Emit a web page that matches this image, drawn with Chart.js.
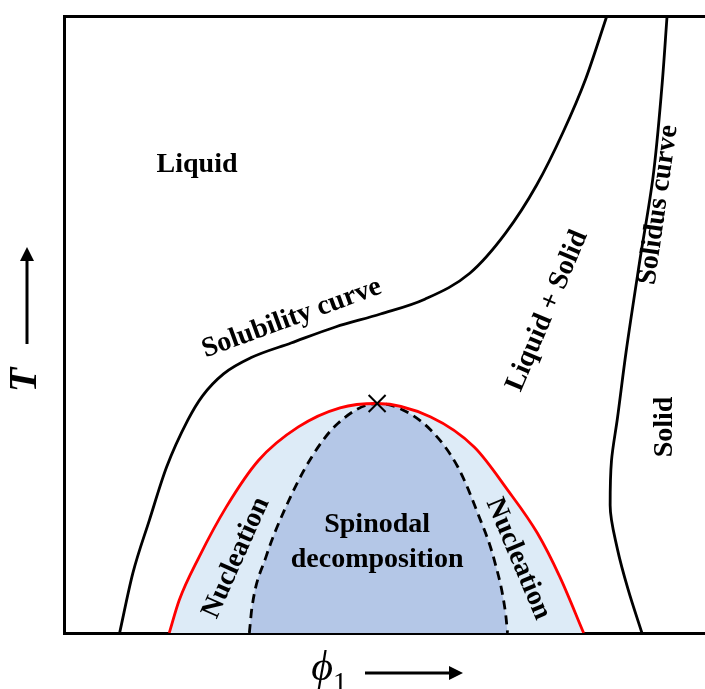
<!DOCTYPE html>
<html>
<head>
<meta charset="utf-8">
<script src="https://cdn.jsdelivr.net/npm/chart.js@4.4.1/dist/chart.umd.min.js"></script>
<style>
  html, body { margin: 0; padding: 0; background: #fff; overflow: hidden; }
  #wrap { width: 705px; height: 689px; overflow: hidden; }
</style>
</head>
<body>
<div id="wrap"><canvas id="phaseChart" width="740" height="689"></canvas></div>
<script>
// Phase diagram: phi_1 (x) vs T (y), both on a 0-100 relative scale
const solubilityX = [8.4, 10.4, 12.9, 15.5, 18.7, 20.9, 24.1, 28.2, 34.3, 41.0, 47.8, 54.5, 61.3, 66.7, 71.4, 75.4, 78.8, 82.0];
const solubilityT = [0, 9.7, 18.3, 26.9, 34.5, 38.4, 42.0, 44.6, 47.0, 49.6, 51.7, 54.1, 58.3, 64.8, 72.6, 81.2, 89.8, 100];

// solidus is listed bottom to top, it bends back in phi
const solidusX = [87.3, 85.2, 83.6, 82.5, 82.7, 83.6, 84.9, 86.9, 89.0, 90.3, 91.1];
const solidusT = [0, 7.1, 13.6, 20.7, 27.9, 34.8, 45.5, 59.8, 74.1, 88.3, 100];

// binodal (red) and spinodal (dashed), left branch -> critical point -> right branch
const binodalX = [15.9, 17.4, 20.4, 24.5, 29.4, 35.4, 41.7, 47.3, 55.4, 62.0, 67.0, 71.5, 74.9, 78.5];
const binodalT = [0, 5.3, 12.3, 20.4, 28.0, 33.4, 36.5, 37.2, 35.0, 30.1, 23.2, 16.2, 9.1, 0];

const spinodalX = [28.0, 28.4, 30.5, 33.5, 37.4, 41.4, 47.3, 50.5, 55.4, 59.5, 62.5, 65.0, 66.7, 67.0];
const spinodalT = [0, 4.2, 12.3, 20.4, 28.5, 34.0, 37.2, 36.5, 32.9, 26.9, 19.4, 11.8, 3.2, 0];

const criticalPoint = [47.3, 37.2];

// region / curve names: [text, x, T, angle in degrees]
const regionLabels = [
  ['Liquid', 20.1, 75.9, 0],
  ['Solubility curve', 34.4, 51.0, -20],
  ['Liquid + Solid', 73.0, 52.2, -67],
  ['Solidus curve', 89.8, 69.4, -82],
  ['Solid', 90.8, 33.4, -90],
  ['Nucleation', 26.0, 12.2, -66],
  ['Nucleation', 68.6, 12.0, 67],
  ['Spinodal', 47.3, 17.6, 0],
  ['decomposition', 47.3, 11.9, 0]
];

const toPoints = (xs, ys) => xs.map((x, i) => ({x: x, y: ys[i]}));

const LIGHT_BLUE = 'rgb(221,235,247)';
const MID_BLUE = 'rgb(180,199,231)';
const SERIF = '"Liberation Serif", "Times New Roman", serif';

const arrow = function (ctx, x1, y1, x2, y2) {
  const ang = Math.atan2(y2 - y1, x2 - x1);
  const head = 14;
  ctx.beginPath();
  ctx.moveTo(x1, y1);
  ctx.lineTo(x2 - Math.cos(ang) * head * 0.8, y2 - Math.sin(ang) * head * 0.8);
  ctx.lineWidth = 3;
  ctx.strokeStyle = '#000';
  ctx.stroke();
  ctx.beginPath();
  ctx.moveTo(x2, y2);
  ctx.lineTo(x2 - head * Math.cos(ang) + 7 * Math.sin(ang), y2 - head * Math.sin(ang) - 7 * Math.cos(ang));
  ctx.lineTo(x2 - head * Math.cos(ang) - 7 * Math.sin(ang), y2 - head * Math.sin(ang) + 7 * Math.cos(ang));
  ctx.closePath();
  ctx.fillStyle = '#000';
  ctx.fill();
};

// text labels, axis names and arrows
const diagramText = {
  id: 'diagramText',
  afterDatasetsDraw(chart) {
    const ctx = chart.ctx;
    const xs = chart.scales.x, ys = chart.scales.y;
    ctx.save();
    ctx.fillStyle = '#000';
    ctx.textAlign = 'center';
    ctx.textBaseline = 'middle';
    ctx.font = 'bold 28px ' + SERIF;
    regionLabels.forEach(function (l) {
      ctx.save();
      ctx.translate(xs.getPixelForValue(l[1]), ys.getPixelForValue(l[2]));
      ctx.rotate(l[3] * Math.PI / 180);
      ctx.fillText(l[0], 0, 0);
      ctx.restore();
    });
    ctx.restore();
  },
  afterDraw(chart) {
    const ctx = chart.ctx;
    const area = chart.chartArea;
    ctx.save();
    ctx.fillStyle = '#000';
    // y axis: T with arrow
    ctx.save();
    ctx.translate(area.left - 38, area.top + 364);
    ctx.rotate(-Math.PI / 2);
    ctx.font = 'bold italic 40px ' + SERIF;
    ctx.textAlign = 'center';
    ctx.textBaseline = 'middle';
    ctx.fillText('T', 0, 0);
    ctx.restore();
    arrow(ctx, area.left - 37, area.top + 328, area.left - 37, area.top + 231);
    // x axis: phi_1 with arrow
    ctx.font = 'italic 42px ' + SERIF;
    ctx.textAlign = 'center';
    ctx.textBaseline = 'alphabetic';
    ctx.fillText('\u03D5', 322, area.bottom + 47);
    ctx.font = '28px ' + SERIF;
    ctx.fillText('1', 340, area.bottom + 58);
    arrow(ctx, 365, area.bottom + 40, 463, area.bottom + 40);
    ctx.restore();
  }
};

const axisOpts = {
  min: 0,
  max: 100,
  grid: { display: false },
  ticks: { display: false },
  border: { display: true, color: '#000', width: 3 }
};

new Chart(document.getElementById('phaseChart'), {
  type: 'scatter',
  data: {
    datasets: [
      {
        label: 'critical point',
        data: [{x: criticalPoint[0], y: criticalPoint[1]}],
        pointStyle: 'crossRot',
        pointRadius: 12,
        pointBorderWidth: 2,
        pointBorderColor: '#000',
        order: 0
      },
      {
        label: 'binodal',
        data: toPoints(binodalX, binodalT),
        showLine: true,
        borderColor: '#ff0000',
        borderWidth: 2.8,
        pointRadius: 0,
        cubicInterpolationMode: 'monotone',
        order: 1
      },
      {
        label: 'spinodal',
        data: toPoints(spinodalX, spinodalT),
        showLine: true,
        borderColor: '#000',
        borderWidth: 2.8,
        borderDash: [9, 6],
        backgroundColor: MID_BLUE,
        fill: 'origin',
        pointRadius: 0,
        cubicInterpolationMode: 'monotone',
        order: 2
      },
      {
        label: 'binodal region',
        data: toPoints(binodalX, binodalT),
        showLine: true,
        borderWidth: 0,
        borderColor: 'rgba(0,0,0,0)',
        backgroundColor: LIGHT_BLUE,
        fill: 'origin',
        pointRadius: 0,
        cubicInterpolationMode: 'monotone',
        order: 3
      },
      {
        label: 'solubility',
        data: toPoints(solubilityX, solubilityT),
        showLine: true,
        borderColor: '#000',
        borderWidth: 2.8,
        pointRadius: 0,
        cubicInterpolationMode: 'monotone',
        order: 4
      },
      {
        label: 'solidus',
        data: toPoints(solidusX, solidusT),
        indexAxis: 'y',
        showLine: true,
        borderColor: '#000',
        borderWidth: 2.8,
        pointRadius: 0,
        cubicInterpolationMode: 'monotone',
        order: 5
      }
    ]
  },
  options: {
    responsive: false,
    devicePixelRatio: 1,
    animation: false,
    layout: { padding: { left: 56, top: 8, bottom: 48, right: 0 } },
    plugins: {
      legend: { display: false },
      tooltip: { enabled: false }
    },
    scales: {
      x: Object.assign({ type: 'linear', position: 'bottom' }, axisOpts),
      xTop: Object.assign({ type: 'linear', position: 'top' }, axisOpts),
      y: Object.assign({ type: 'linear', position: 'left' }, axisOpts)
    }
  },
  plugins: [diagramText]
});
</script>
</body>
</html>
